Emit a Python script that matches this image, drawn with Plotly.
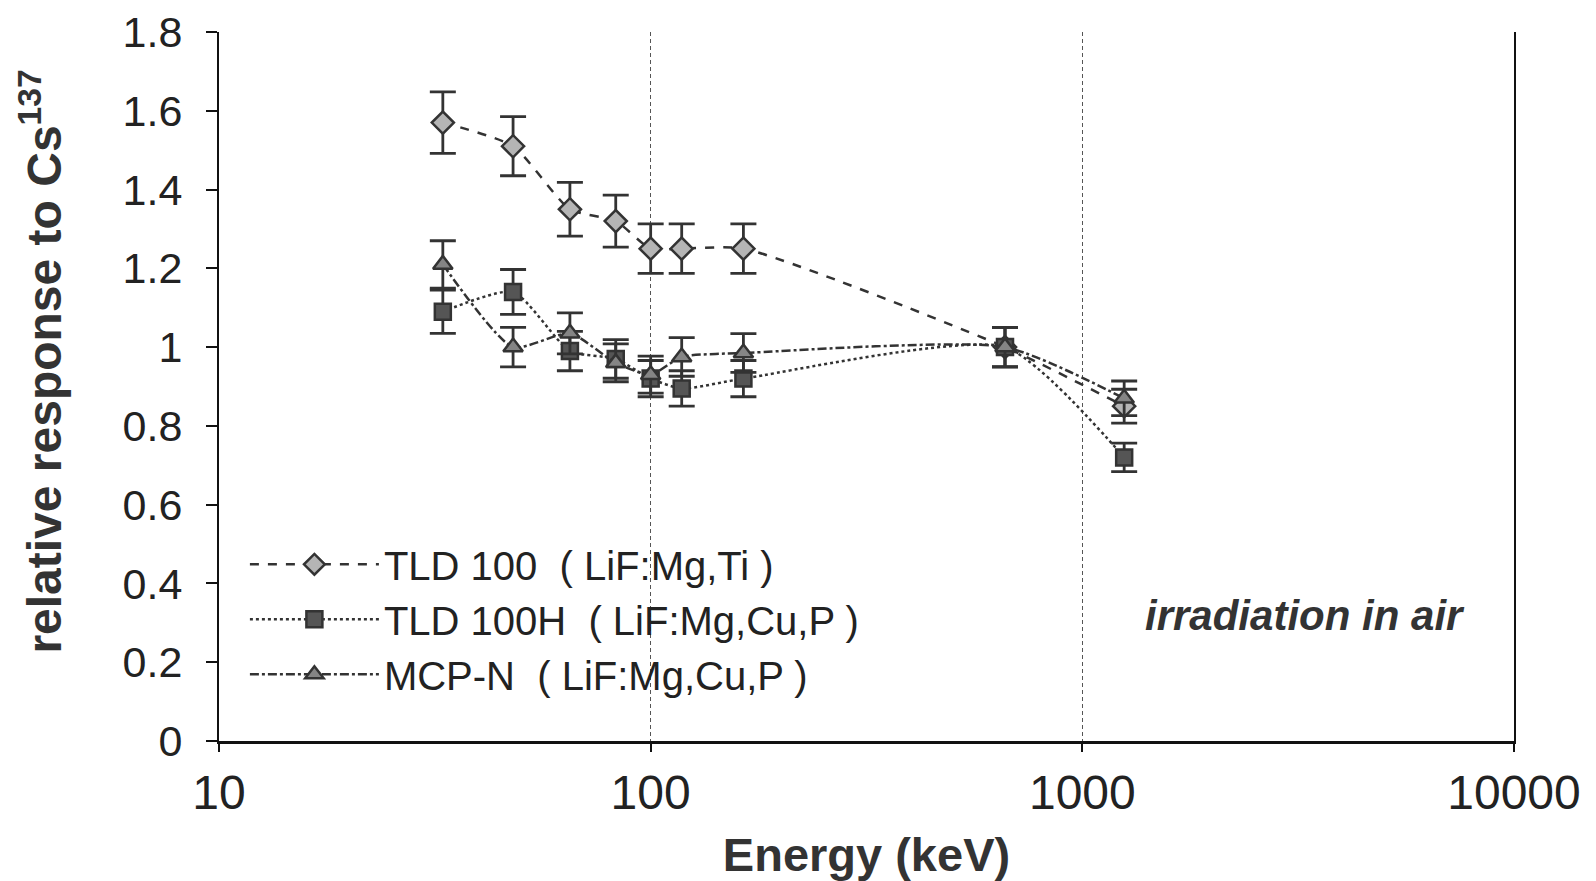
import plotly.graph_objects as go

# ---- data ----
energy_keV = [33, 48, 65, 83, 100, 118, 164, 662, 1250]

tld100 = [1.57, 1.51, 1.35, 1.32, 1.25, 1.25, 1.25, 1.00, 0.85]
tld100_err = [0.078, 0.075, 0.068, 0.066, 0.063, 0.063, 0.063, 0.05, 0.043]

tld100h = [1.09, 1.14, 0.99, 0.97, 0.92, 0.895, 0.92, 1.00, 0.72]
tld100h_err = [0.055, 0.057, 0.05, 0.049, 0.046, 0.045, 0.046, 0.05, 0.036]

mcpn = [1.21, 1.00, 1.035, 0.96, 0.93, 0.975, 0.985, 1.00, 0.87]
mcpn_err = [0.06, 0.05, 0.052, 0.048, 0.047, 0.049, 0.049, 0.05, 0.044]

names = ["TLD 100  ( LiF:Mg,Ti )", "TLD 100H  ( LiF:Mg,Cu,P )", "MCP-N  ( LiF:Mg,Cu,P )"]

x_ticks = [10, 100, 1000, 10000]
y_ticks = [0, 0.2, 0.4, 0.6, 0.8, 1.0, 1.2, 1.4, 1.6, 1.8]
y_tick_text = ["0", "0.2", "0.4", "0.6", "0.8", "1", "1.2", "1.4", "1.6", "1.8"]

INK = "#333333"
FONT = "Liberation Sans, Arial, sans-serif"

fig = go.Figure()

series = [
    (tld100, tld100_err, names[0], "diamond", 17, "#b5b5b5", "dash"),
    (tld100h, tld100h_err, names[1], "square", 16, "#555555", "dot"),
    (mcpn, mcpn_err, names[2], "triangle-up", 17, "#858585", "dashdot"),
]
for vals, errs, name, sym, size, fill, dash in series:
    fig.add_trace(go.Scatter(
        x=energy_keV, y=vals, name=name, mode="lines+markers",
        line=dict(color=INK, width=2.5, dash=dash, shape="spline", smoothing=0.6),
        marker=dict(symbol=sym, size=size, color=fill, line=dict(color=INK, width=2.5)),
        error_y=dict(type="data", array=errs, visible=True, color=INK, thickness=2.8, width=13),
    ))

fig.add_annotation(
    x=3.515, y=0.319, xref="x", yref="y", text="<b><i>irradiation in air</i></b>",
    showarrow=False, font=dict(family=FONT, size=42, color=INK),
)

# y-axis title (placed as an annotation so its vertical position matches)
fig.add_annotation(
    x=-0.1375, y=0.535, xref="paper", yref="paper", xanchor="center", yanchor="middle",
    text="<b>relative response to Cs<sup>137</sup></b>", textangle=-90,
    showarrow=False, font=dict(family=FONT, size=48, color="#333333"),
)

fig.update_layout(
    width=1588, height=873,
    margin=dict(l=211, r=82, t=24, b=140, autoexpand=False),
    paper_bgcolor="white", plot_bgcolor="white",
    font=dict(family=FONT, color="#222222"),
    showlegend=True,
    legend=dict(
        x=0.02, y=0.295, xanchor="left", yanchor="top",
        bgcolor="rgba(0,0,0,0)", font=dict(family=FONT, size=40, color="#222222"),
        itemwidth=129, tracegroupgap=0,
    ),
    xaxis=dict(
        type="log", range=[1, 4], tickvals=x_ticks, ticktext=[str(v) for v in x_ticks],
        showline=True, linecolor="#111111", linewidth=2.5,
        ticks="outside", ticklen=8, tickwidth=1.5, tickcolor="#111111",
        tickfont=dict(family=FONT, size=48, color="#222222"),
        showgrid=True, gridcolor="#555555", gridwidth=1, griddash="4px,3px",
        zeroline=False,
        title=dict(text="<b>Energy (keV)</b>", font=dict(family=FONT, size=47, color="#333333"), standoff=34),
    ),
    yaxis=dict(
        range=[0, 1.8], tickvals=y_ticks, ticktext=y_tick_text,
        showline=True, linecolor="#111111", linewidth=2, mirror=True,
        ticks="outside", ticklen=11, tickwidth=1.5, tickcolor="#111111",
        tickfont=dict(family=FONT, size=43, color="#222222"),
        ticklabelstandoff=15,
        showgrid=False, zeroline=False,
    ),
)

fig.write_html("out.html")
